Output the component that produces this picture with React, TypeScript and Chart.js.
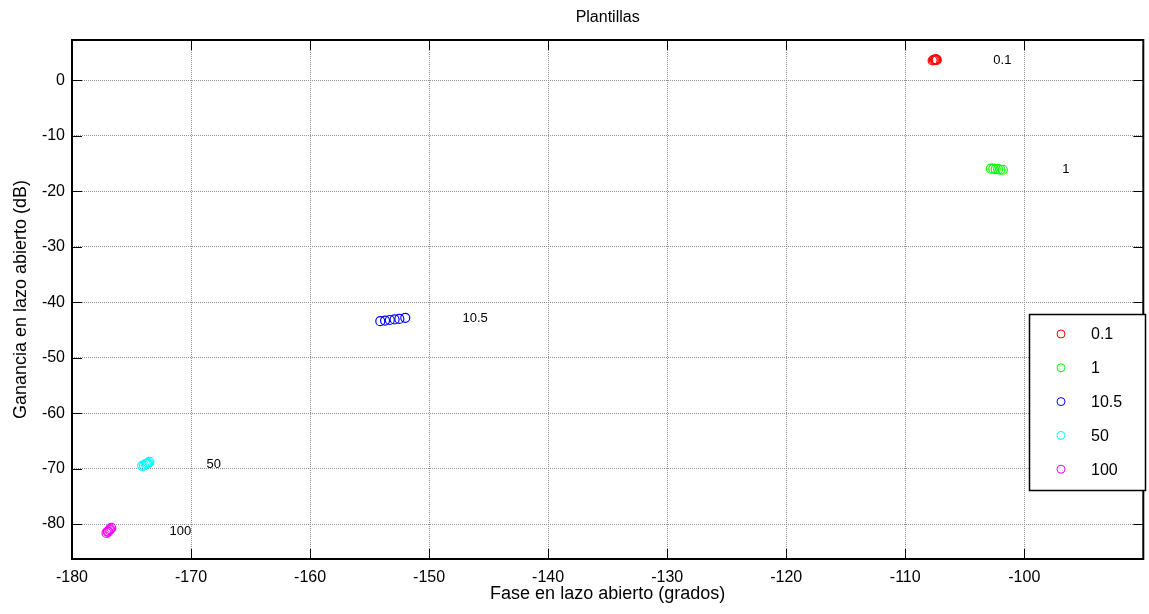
import React, { useEffect, useRef } from "react";
import { Chart, registerables } from "chart.js";

Chart.register(...registerables);

// ---- Data ----
const seriesLabels = ["0.1", "1", "10.5", "50", "100"];

const phase01 = [-107.7, -107.6, -107.5, -107.45, -107.4, -107.35];
const gain01 = [3.6, 3.7, 3.7, 3.8, 3.8, 3.7];

const phase1 = [-102.8, -102.6, -102.4, -102.2, -102.0, -101.8];
const gain1 = [-15.9, -15.9, -16.0, -16.0, -16.1, -16.1];

const phase105 = [-154.1, -153.7, -153.3, -152.9, -152.5, -152.0];
const gain105 = [-43.4, -43.3, -43.2, -43.1, -43.0, -42.8];

const phase50 = [-174.1, -173.95, -173.8, -173.7, -173.6, -173.5];
const gain50 = [-69.5, -69.4, -69.2, -69.1, -69.0, -68.8];

const phase100 = [-177.1, -177.0, -176.95, -176.85, -176.8, -176.7];
const gain100 = [-81.6, -81.4, -81.3, -81.1, -80.9, -80.7];

const textLabels = ["0.1", "1", "10.5", "50", "100"];
const textX = [-102.6, -96.8, -147.2, -168.7, -171.8];
const textY = [3.7, -16.0, -43.0, -69.3, -81.3];

const xTicks = [-180, -170, -160, -150, -140, -130, -120, -110, -100];
const yTicks = [0, -10, -20, -30, -40, -50, -60, -70, -80];
const xMin = -180;
const xMax = -90;
const yMin = -86.3;
const yMax = 7.3;

const chartTitle = "Plantillas";
const xTitle = "Fase en lazo abierto (grados)";
const yTitle = "Ganancia en lazo abierto (dB)";

const FONT = "'Liberation Sans', Arial, sans-serif";
const colors = ["#ff0000", "#00ff00", "#0000ff", "#00ffff", "#ff00ff"];

const allPhase = [phase01, phase1, phase105, phase50, phase100];
const allGain = [gain01, gain1, gain105, gain50, gain100];

const overlayPlugin = {
  id: "matlabOverlay",
  afterDraw(chart: any) {
    const ctx = chart.ctx as CanvasRenderingContext2D;
    const { left, right, top, bottom } = chart.chartArea;
    const xs = chart.scales.x;
    const ys = chart.scales.y;
    ctx.save();

    // text annotations
    ctx.fillStyle = "#000";
    ctx.font = `13px ${FONT}`;
    ctx.textAlign = "left";
    ctx.textBaseline = "middle";
    textLabels.forEach((t, i) => {
      ctx.fillText(t, xs.getPixelForValue(textX[i]), ys.getPixelForValue(textY[i]));
    });

    // inner ticks
    ctx.strokeStyle = "#000";
    ctx.lineWidth = 1;
    const tl = 10;
    ctx.beginPath();
    xTicks.forEach((v) => {
      const px = Math.round(xs.getPixelForValue(v)) + 0.5;
      ctx.moveTo(px, bottom);
      ctx.lineTo(px, bottom - tl);
      ctx.moveTo(px, top);
      ctx.lineTo(px, top + tl);
    });
    yTicks.forEach((v) => {
      const py = Math.round(ys.getPixelForValue(v)) + 0.5;
      ctx.moveTo(left, py);
      ctx.lineTo(left + tl, py);
      ctx.moveTo(right, py);
      ctx.lineTo(right - tl, py);
    });
    ctx.stroke();

    // axes box
    ctx.lineWidth = 2;
    ctx.strokeStyle = "#000";
    ctx.strokeRect(left, top, right - left, bottom - top);

    // legend
    const lx = 1029;
    const ly = 314;
    const lw = 116;
    const lh = 176;
    ctx.fillStyle = "#fff";
    ctx.fillRect(lx, ly, lw, lh);
    ctx.lineWidth = 1.5;
    ctx.strokeStyle = "#000";
    ctx.strokeRect(lx + 0.5, ly + 0.5, lw, lh);
    ctx.font = `16px ${FONT}`;
    ctx.textAlign = "left";
    ctx.textBaseline = "middle";
    chart.data.datasets.forEach((ds: any, i: number) => {
      const cy = ly + 20 + i * 33.8;
      ctx.beginPath();
      ctx.lineWidth = 1;
      ctx.strokeStyle = ds.borderColor;
      ctx.arc(lx + 32, cy, 4, 0, Math.PI * 2);
      ctx.stroke();
      ctx.fillStyle = "#000";
      ctx.fillText(ds.label, lx + 62, cy + 1);
    });

    // titles
    ctx.fillStyle = "#000";
    ctx.textAlign = "center";
    ctx.textBaseline = "middle";
    ctx.font = `16px ${FONT}`;
    ctx.fillText(chartTitle, (left + right) / 2, 18);
    ctx.font = `18px ${FONT}`;
    ctx.fillText(xTitle, (left + right) / 2, 594);
    ctx.save();
    ctx.translate(21, (top + bottom) / 2);
    ctx.rotate(-Math.PI / 2);
    ctx.fillText(yTitle, 0, 0);
    ctx.restore();

    ctx.restore();
  },
};

export default function App() {
  const canvasRef = useRef<HTMLCanvasElement | null>(null);

  useEffect(() => {
    document.body.style.margin = "0";
    const canvas = canvasRef.current;
    if (!canvas) return;

    const datasets = seriesLabels.map((label, i) => ({
      label,
      data: allPhase[i].map((x, j) => ({ x, y: allGain[i][j] })),
      borderColor: colors[i],
      backgroundColor: "rgba(0,0,0,0)",
      pointStyle: "circle",
      pointRadius: 4.5,
      pointBorderWidth: 1.2,
      showLine: false,
    }));

    const chart = new Chart(canvas, {
      type: "scatter",
      data: { datasets },
      options: {
        animation: false,
        responsive: false,
        maintainAspectRatio: false,
        layout: { padding: { top: 40, right: 2, left: 0, bottom: 0 } },
        plugins: {
          legend: { display: false },
          title: { display: false },
          tooltip: { enabled: false },
        },
        scales: {
          x: {
            type: "linear",
            min: xMin,
            max: xMax,
            afterBuildTicks: (scale: any) => {
              scale.ticks = xTicks.map((v) => ({ value: v }));
            },
            afterFit: (scale: any) => {
              scale.height = 55;
            },
            grid: {
              color: "#909090",
              lineWidth: 1,
              drawTicks: false,
            },
            border: { display: false, dash: [1, 1] },
            ticks: {
              color: "#000",
              font: { family: FONT, size: 16 },
              padding: 9,
              maxRotation: 0,
              autoSkip: false,
            },
          },
          y: {
            type: "linear",
            min: yMin,
            max: yMax,
            afterBuildTicks: (scale: any) => {
              scale.ticks = yTicks.map((v) => ({ value: v }));
            },
            afterFit: (scale: any) => {
              scale.width = 72;
            },
            grid: {
              color: "#909090",
              lineWidth: 1,
              drawTicks: false,
            },
            border: { display: false, dash: [1, 1] },
            ticks: {
              color: "#000",
              font: { family: FONT, size: 16 },
              padding: 7,
              autoSkip: false,
            },
          },
        },
      },
      plugins: [overlayPlugin],
    } as any);

    return () => {
      chart.destroy();
    };
  }, []);

  return (
    <div style={{ width: 1149, height: 614, background: "#fff" }}>
      <canvas ref={canvasRef} width={1149} height={614} style={{ display: "block" }} />
    </div>
  );
}
